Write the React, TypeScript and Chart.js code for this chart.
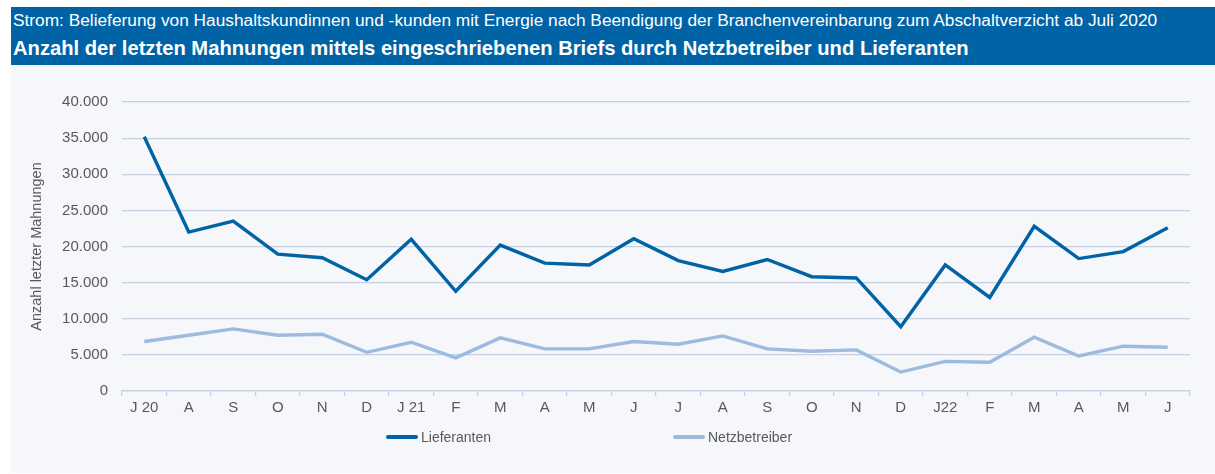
import React, { useEffect, useRef } from "react";
import { Chart, registerables } from "chart.js";

Chart.register(...registerables);

const categories = ["J 20", "A", "S", "O", "N", "D", "J 21", "F", "M", "A", "M", "J", "J", "A", "S", "O", "N", "D", "J22", "F", "M", "A", "M", "J"];
const lieferanten = [35200, 22000, 23500, 18950, 18450, 15400, 21000, 13800, 20200, 17700, 17450, 21080, 18050, 16550, 18200, 15820, 15650, 8900, 17450, 12950, 22800, 18330, 19300, 22580];
const netzbetreiber = [6850, 7720, 8600, 7720, 7860, 5350, 6750, 4580, 7350, 5830, 5830, 6850, 6470, 7630, 5830, 5500, 5690, 2620, 4100, 3970, 7450, 4850, 6200, 6060];
const yTicks = [0, 5000, 10000, 15000, 20000, 25000, 30000, 35000, 40000];

const titleLine1 = "Strom: Belieferung von Haushaltskundinnen und -kunden mit Energie nach Beendigung der Branchenvereinbarung zum Abschaltverzicht ab Juli 2020";
const titleLine2 = "Anzahl der letzten Mahnungen mittels eingeschriebenen Briefs durch Netzbetreiber und Lieferanten";
const yTitle = "Anzahl letzter Mahnungen";
const seriesNames = ["Lieferanten", "Netzbetreiber"];

const DARK = "#0063a6";
const LIGHT = "#9dbbde";
const GRID = "#c6d0e1";
const TEXT = "#595959";
const BG = "#f5f7fb";
const FONT = "'Liberation Sans', Arial, sans-serif";

function fmt(v: number): string {
  const s = Math.round(v).toString();
  return s.replace(/\B(?=(\d{3})+(?!\d))/g, ".");
}

export default function App() {
  const ref = useRef<HTMLCanvasElement | null>(null);

  useEffect(() => {
    if (!ref.current) return;
    Chart.defaults.font.family = FONT;
    const chart = new Chart(ref.current, {
      type: "line",
      data: {
        labels: categories,
        datasets: [
          {
            label: seriesNames[0],
            data: lieferanten,
            borderColor: DARK,
            backgroundColor: DARK,
            borderWidth: 3.4,
            pointRadius: 0,
            tension: 0,
            borderJoinStyle: "miter",
          },
          {
            label: seriesNames[1],
            data: netzbetreiber,
            borderColor: LIGHT,
            backgroundColor: LIGHT,
            borderWidth: 3.4,
            pointRadius: 0,
            tension: 0,
            borderJoinStyle: "miter",
          },
        ],
      },
      options: {
        animation: false,
        responsive: false,
        layout: { padding: { left: 0, right: 25, top: 37, bottom: 0 } },
        plugins: {
          legend: { display: false },
          tooltip: { enabled: false },
        },
        scales: {
          x: {
            offset: true,
            grid: {
              display: true,
              drawOnChartArea: false,
              drawTicks: true,
              tickLength: 5,
              offset: true,
              color: GRID,
              lineWidth: 1.2,
            },
            border: { display: true, color: GRID, width: 1.2 },
            ticks: {
              color: TEXT,
              font: { size: 15, family: FONT },
              padding: 3,
              maxRotation: 0,
              autoSkip: false,
            },
            afterFit: (s: any) => {
              s.height = 82;
            },
          },
          y: {
            min: 0,
            max: 40000,
            afterBuildTicks: (s: any) => {
              s.ticks = yTicks.map((v) => ({ value: v }));
            },
            grid: { color: GRID, lineWidth: 1.2, drawTicks: false },
            border: { display: false },
            ticks: {
              color: TEXT,
              font: { size: 15, family: FONT },
              padding: 14,
              callback: (v: any) => fmt(Number(v)),
            },
            title: {
              display: true,
              text: yTitle,
              color: TEXT,
              font: { size: 14.5, family: FONT },
              padding: { top: 17, bottom: 0 },
            },
            afterFit: (s: any) => {
              s.width = 111;
            },
          },
        },
      },
    });
    return () => chart.destroy();
  }, []);

  const legendItem = (name: string, color: string, left: number) => (
    <div style={{ position: "absolute", left, top: 421, height: 18, display: "flex", alignItems: "center" }}>
      <div style={{ width: 32, height: 3.5, background: color, borderRadius: 2 }} />
      <span style={{ marginLeft: 3, font: `14px ${FONT}`, color: TEXT, whiteSpace: "nowrap" }}>{name}</span>
    </div>
  );

  return (
    <div style={{ position: "absolute", left: 11, top: 7, width: 1204, height: 466, background: BG, overflow: "hidden" }}>
      <div style={{ position: "absolute", left: 0, top: 0, width: 1204, height: 58, background: DARK }}>
        <div style={{ position: "absolute", left: 2, top: 3, font: `17.3px ${FONT}`, color: "#ffffff", whiteSpace: "nowrap", lineHeight: "20px" }}>
          {titleLine1}
        </div>
        <div style={{ position: "absolute", left: 2, top: 30, font: `bold 20.2px ${FONT}`, color: "#ffffff", whiteSpace: "nowrap", lineHeight: "22px" }}>
          {titleLine2}
        </div>
      </div>
      <canvas ref={ref} width={1204} height={408} style={{ position: "absolute", left: 0, top: 58, width: 1204, height: 408 }} />
      {legendItem(seriesNames[0], DARK, 375)}
      {legendItem(seriesNames[1], LIGHT, 662)}
    </div>
  );
}
